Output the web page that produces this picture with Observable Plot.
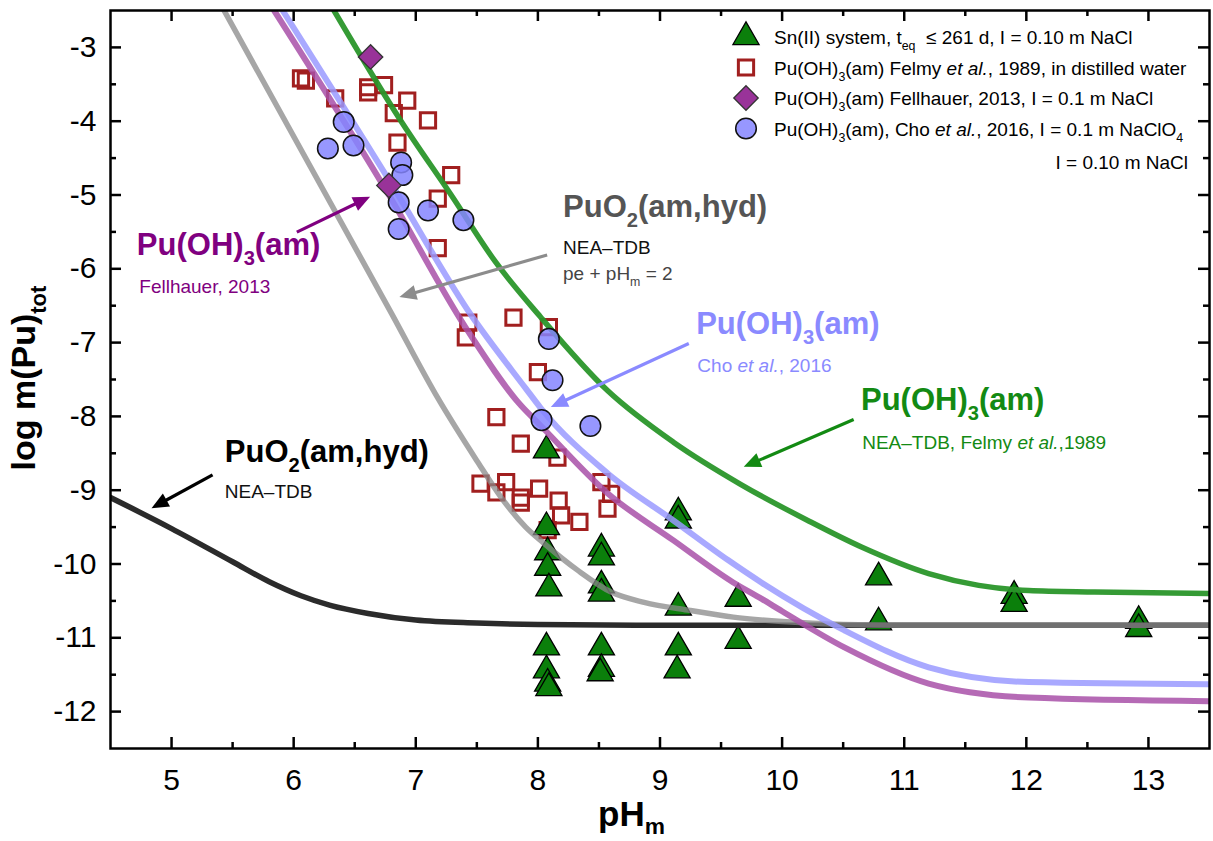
<!DOCTYPE html>
<html>
<head>
<meta charset="utf-8">
<script src="https://cdn.jsdelivr.net/npm/d3@7"></script>
<script src="https://cdn.jsdelivr.net/npm/@observablehq/plot@0.6"></script>
<style>
html,body{margin:0;padding:0;background:#fff;overflow:hidden}
#chart svg{display:block}
</style>
</head>
<body>
<div id="chart"></div>
<script>
// ---------- data ----------
// axis ticks
const xMajor = [5, 6, 7, 8, 9, 10, 11, 12, 13];
const xMinor = [5.5, 6.5, 7.5, 8.5, 9.5, 10.5, 11.5, 12.5];
const yMajor = [-3, -4, -5, -6, -7, -8, -9, -10, -11, -12];
const yMinor = [-3.5, -4.5, -5.5, -6.5, -7.5, -8.5, -9.5, -10.5, -11.5];

// Sn(II) system (triangles)
const snPH  = [8.07, 8.07, 8.08, 8.08, 8.09, 8.07, 8.07, 8.08, 8.09,
               8.52, 8.52, 8.52, 8.52, 8.52, 8.52, 8.51,
               9.15, 9.15, 9.15, 9.15, 9.14,
               9.64, 9.64, 10.79, 10.79, 11.9, 11.9, 12.92, 12.92];
const snLog = [-8.46, -9.5, -9.84, -10.05, -10.33, -11.13, -11.44, -11.62, -11.68,
               -9.79, -9.91, -10.29, -10.4, -11.13, -11.42, -11.48,
               -9.3, -9.41, -10.59, -11.13, -11.44,
               -10.47, -11.04, -10.18, -10.79, -10.43, -10.54, -10.77, -10.88];

// Pu(OH)3(am) Felmy et al., 1989 (open squares)
const felmyPH  = [6.06, 6.1, 6.34, 6.61, 6.61, 6.74, 6.93, 6.82, 7.1, 6.85, 7.29, 7.18, 7.18,
                  7.43, 7.41, 7.8, 8.09, 8.0, 7.66, 7.86, 8.16, 7.53, 7.66, 7.74, 7.86, 7.86,
                  8.01, 8.17, 8.19, 8.34, 8.08, 8.52, 8.6, 8.57];
const felmyLog = [-3.42, -3.45, -3.69, -3.54, -3.61, -3.51, -3.72, -3.89, -3.99, -4.29, -4.73, -5.05, -5.72,
                  -6.73, -6.93, -6.66, -6.79, -7.4, -8.01, -8.37, -8.56, -8.91, -9.03, -8.89, -9.17, -9.1,
                  -8.98, -9.14, -9.34, -9.43, -9.54, -8.89, -9.05, -9.25];

// Pu(OH)3(am) Fellhauer, 2013 (diamonds)
const fellPH  = [6.63, 6.78];
const fellLog = [-3.13, -4.87];

// Pu(OH)3(am) Cho et al., 2016 (circles)
const choPH  = [6.41, 6.28, 6.49, 6.88, 6.89, 6.86, 7.1, 7.39, 6.86, 8.09, 8.12, 8.03, 8.43];
const choLog = [-4.01, -4.37, -4.33, -4.56, -4.73, -5.1, -5.21, -5.34, -5.46, -6.95, -7.51, -8.05, -8.13];

// model curves
const greenPH  = [6.33, 6.88, 7.29, 7.65, 8.02, 8.57, 9.11, 9.66, 10.21, 10.65, 11.2, 11.61, 12.02, 12.56, 13.5];
const greenLog = [-2.5, -4.0, -5.0, -5.9, -6.65, -7.65, -8.35, -8.92, -9.41, -9.77, -10.13, -10.29, -10.36, -10.38, -10.4];

const purplePH  = [5.84, 6.78, 7.41, 7.86, 8.02, 8.57, 9.11, 9.6, 9.83, 10.0, 10.51, 11.2, 12.02, 13.5];
const purpleLog = [-2.5, -5.0, -6.8, -7.85, -8.12, -9.04, -9.68, -10.25, -10.47, -10.64, -11.13, -11.62, -11.81, -11.86];

const lavPH  = [5.91, 6.8, 7.45, 7.9, 8.02, 8.57, 9.11, 9.56, 9.83, 10.51, 11.2, 12.02, 13.5];
const lavLog = [-2.5, -4.85, -6.62, -7.62, -7.88, -8.77, -9.41, -9.95, -10.25, -10.9, -11.4, -11.6, -11.63];

const grayPH  = [5.43, 6.8, 7.18, 7.5, 7.7, 7.9, 8.05, 8.33, 8.6, 8.87, 9.25, 9.6, 10.0, 10.5, 11.0, 13.5];
const grayLog = [-2.5, -6.6, -7.75, -8.6, -9.1, -9.5, -9.72, -10.09, -10.38, -10.52, -10.63, -10.72, -10.78, -10.82, -10.83, -10.83];

const darkPH  = [4.5, 5.0, 5.5, 5.8, 6.06, 6.3, 6.61, 7.0, 7.5, 8.0, 9.0, 13.5];
const darkLog = [-9.1, -9.52, -9.97, -10.24, -10.43, -10.56, -10.67, -10.76, -10.8, -10.82, -10.83, -10.83];

// annotation labels (data coordinates of text start / baseline)
const labelX    = [4.72, 4.74, 8.21, 8.21, 8.21, 9.30, 9.31, 10.65, 10.66, 5.44, 5.44];
const labelY    = [-5.82, -6.33, -5.30, -5.80, -6.16, -6.89, -7.40, -7.92, -8.45, -8.62, -9.11];
const labelText = [
  ["Pu(OH)", ["3", "sub"], "(am)"],
  ["Fellhauer, 2013"],
  ["PuO", ["2", "sub"], "(am,hyd)"],
  ["NEA–TDB"],
  ["pe + pH", ["m", "sub"], " = 2"],
  ["Pu(OH)", ["3", "sub"], "(am)"],
  ["Cho ", ["et al.", "i"], ", 2016"],
  ["Pu(OH)", ["3", "sub"], "(am)"],
  ["NEA–TDB, Felmy ", ["et al.", "i"], ",1989"],
  ["PuO", ["2", "sub"], "(am,hyd)"],
  ["NEA–TDB"]
];
const labelKind = ["big", "small", "big", "small", "small", "big", "small", "big", "small", "big", "small"];
const labelColor = ["#800080", "#800080", "#555555", "#111111", "#444444", "#8a8aff", "#8a8aff", "#138a13", "#138a13", "#000000", "#111111"];

// annotation arrows (data coordinates: from -> to)
const arrowFromX = [6.03, 8.08, 9.24, 10.59, 5.34];
const arrowFromY = [-5.51, -5.82, -7.02, -8.05, -8.80];
const arrowToX   = [6.63, 6.87, 8.11, 9.69, 4.84];
const arrowToY   = [-5.03, -6.39, -7.88, -8.69, -9.25];
const arrowColor = ["#800080", "#8c8c8c", "#8a8aff", "#138a13", "#000000"];

// legend
const legendText = [
  ["Sn(II) system, t", ["eq", "sub"], "  ≤ 261 d, I = 0.10 m NaCl"],
  ["Pu(OH)", ["3", "sub"], "(am) Felmy ", ["et al.", "i"], ", 1989, in distilled water"],
  ["Pu(OH)", ["3", "sub"], "(am) Fellhauer, 2013, I = 0.1 m NaCl"],
  ["Pu(OH)", ["3", "sub"], "(am), Cho ", ["et al.", "i"], ", 2016, I = 0.1 m NaClO", ["4", "sub"]]
];
const legendNote = "I = 0.10 m NaCl";

// ---------- build ----------
const FONT = "'Liberation Sans', Arial, Helvetica, sans-serif";
const W = 1213, H = 841;
const mL = 110, mR = 4, mT = 10, mB = 93;
const innerW = W - mL - mR, innerH = H - mT - mB;

const pts = (xs, ys) => xs.map((x, i) => ({x, y: ys[i]}));
const sn = pts(snPH, snLog), felmy = pts(felmyPH, felmyLog), fell = pts(fellPH, fellLog), cho = pts(choPH, choLog);

const S = {
  triangle: {symbol: "triangle", r: 9.7, fill: "#0b7f0b", stroke: "#000", strokeWidth: 1.3},
  square:   {symbol: "square", r: 8.6, fill: "none", stroke: "#a11f1f", strokeWidth: 3},
  diamond:  {symbol: "diamond2", r: 11, fill: "#993399", stroke: "#333", strokeWidth: 1.3},
  circle:   {symbol: "circle", r: 10.3, fill: "#8585ff", fillOpacity: 0.85, stroke: "#111", strokeWidth: 1.5}
};

const tickStyle = {stroke: "#000", strokeWidth: 2.5};
const curve = (xs, ys, stroke, opacity, sw) =>
  Plot.line(pts(xs, ys), {x: "x", y: "y", stroke, strokeOpacity: opacity, strokeWidth: sw, curve: "monotone-x", clip: true});

const plot = Plot.plot({
  width: W, height: H,
  marginLeft: mL, marginRight: mR, marginTop: mT, marginBottom: mB,
  x: {domain: [4.5, 13.5]},
  y: {domain: [-12.5, -2.5]},
  style: {fontFamily: FONT, background: "#fff", color: "#000"},
  marks: [
    Plot.dot(felmy, {x: "x", y: "y", ...S.square}),
    Plot.dot(sn, {x: "x", y: "y", ...S.triangle}),
    curve(darkPH, darkLog, "#2b2b2b", 1, 5.5),
    curve(grayPH, grayLog, "#888888", 0.75, 5.5),
    curve(purplePH, purpleLog, "#a850a8", 0.85, 6),
    curve(lavPH, lavLog, "#9a9aff", 0.85, 6),
    curve(greenPH, greenLog, "#2a962a", 0.95, 5.5),
    Plot.dot(cho, {x: "x", y: "y", ...S.circle}),
    Plot.dot(fell, {x: "x", y: "y", ...S.diamond}),
    Plot.frame({stroke: "#000", strokeWidth: 2.5}),
    Plot.tickX(xMajor, {x: d => d, insetTop: innerH - 11, ...tickStyle}),
    Plot.tickX(xMajor, {x: d => d, insetBottom: innerH - 11, ...tickStyle}),
    Plot.tickX(xMinor, {x: d => d, insetTop: innerH - 6, ...tickStyle}),
    Plot.tickX(xMinor, {x: d => d, insetBottom: innerH - 6, ...tickStyle}),
    Plot.tickY(yMajor, {y: d => d, insetRight: innerW - 11, ...tickStyle}),
    Plot.tickY(yMajor, {y: d => d, insetLeft: innerW - 11, ...tickStyle}),
    Plot.tickY(yMinor, {y: d => d, insetRight: innerW - 6, ...tickStyle}),
    Plot.tickY(yMinor, {y: d => d, insetLeft: innerW - 6, ...tickStyle}),
    Plot.axisX({ticks: xMajor, tickSize: 0, tickPadding: 20, fontSize: 30, label: null, tickFormat: d => String(d)}),
    Plot.axisY({ticks: yMajor, tickSize: 0, tickPadding: 14, fontSize: 30, label: null, tickFormat: d => String(d)})
  ]
});

document.getElementById("chart").appendChild(plot);

const sx = plot.scale("x").apply, sy = plot.scale("y").apply;
const svg = d3.select(plot);
const g = svg.append("g").attr("class", "overlay");

function rich(parent, x, y, parts, o) {
  const t = parent.append("text")
    .attr("x", x).attr("y", y)
    .attr("font-family", FONT)
    .attr("font-size", o.size)
    .attr("font-weight", o.weight || "normal")
    .attr("fill", o.fill || "#000")
    .attr("text-anchor", o.anchor || "start")
    .style("white-space", "pre");
  if (o.transform) t.attr("transform", o.transform);
  let shifted = 0;
  const shift = o.subShift ?? 0.32;
  for (const p of parts) {
    const [str, kind] = typeof p === "string" ? [p, "n"] : p;
    const ts = t.append("tspan").text(str);
    if (kind === "sub") {
      const dy = o.size * shift;
      ts.attr("font-size", o.size * 0.65).attr("dy", dy - shifted);
      shifted = dy;
    } else {
      if (shifted) { ts.attr("dy", -shifted); shifted = 0; }
      if (kind === "i") ts.attr("font-style", "italic");
    }
  }
  return t;
}

function arrow(x1, y1, x2, y2, color) {
  const dx = x2 - x1, dy = y2 - y1, L = Math.hypot(dx, dy);
  const ux = dx / L, uy = dy / L, hl = 17, hw = 7.5;
  const bx = x2 - ux * hl, by = y2 - uy * hl;
  g.append("line").attr("x1", x1).attr("y1", y1).attr("x2", bx + ux * 2).attr("y2", by + uy * 2)
    .attr("stroke", color).attr("stroke-width", 3.2);
  g.append("path")
    .attr("d", `M${x2},${y2}L${bx - uy * hw},${by + ux * hw}L${bx + uy * hw},${by - ux * hw}Z`)
    .attr("fill", color);
}

// annotation labels
labelText.forEach((parts, i) => {
  const big = labelKind[i] === "big";
  rich(g, sx(labelX[i]), sy(labelY[i]), parts, {size: big ? 31 : 19, weight: big ? "bold" : "normal", fill: labelColor[i]});
});

// arrows
arrowFromX.forEach((_, i) => arrow(sx(arrowFromX[i]), sy(arrowFromY[i]), sx(arrowToX[i]), sy(arrowToY[i]), arrowColor[i]));

// legend
const legendSymbols = [S.triangle, S.square, S.diamond, S.circle];
const d3sym = {triangle: d3.symbolTriangle, square: d3.symbolSquare, diamond2: d3.symbolDiamond2, circle: d3.symbolCircle};
const lgX = W - mR - 463, lgY0 = mT + 27, lgStep = 30.5;
legendText.forEach((parts, i) => {
  const s = legendSymbols[i];
  const cy = lgY0 + i * lgStep;
  g.append("path")
    .attr("transform", `translate(${lgX},${cy})`)
    .attr("d", d3.symbol(d3sym[s.symbol], Math.PI * s.r * s.r)())
    .attr("fill", s.fill).attr("fill-opacity", s.fillOpacity ?? 1)
    .attr("stroke", s.stroke).attr("stroke-width", s.strokeWidth);
  rich(g, lgX + 28, cy + 7, parts, {size: 19});
});
rich(g, W - mR - 21, lgY0 + 4 * lgStep + 10, [legendNote], {size: 19, anchor: "end"});

// axis titles
rich(g, 598, 826, ["pH", ["m", "sub"]], {size: 35, weight: "bold", subShift: 0.24});
rich(g, 0, 0, ["log m(Pu)", ["tot", "sub"]], {size: 34, weight: "bold", anchor: "middle", transform: "translate(35,378) rotate(-90)"});
</script>
</body>
</html>
